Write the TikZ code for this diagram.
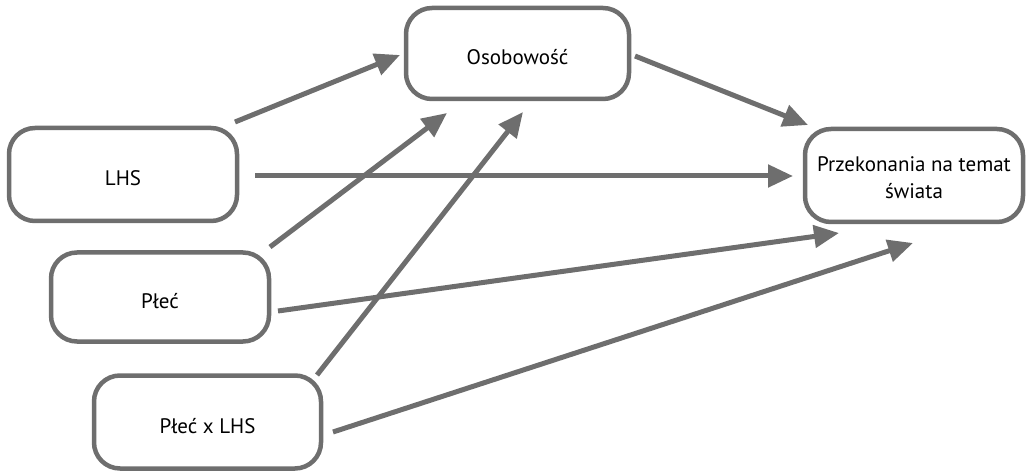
\documentclass[tikz,border=0pt]{standalone}
\usepackage{fontspec}
\setmainfont{PT Sans}
\usetikzlibrary{arrows.meta}
\definecolor{edgegray}{HTML}{6E6E6E}
\newcommand{\lowtext}[1]{\raisebox{-4pt}[\height][\depth]{#1}}
\tikzset{
  box/.style={draw=edgegray, line width=4.5pt, rounded corners=26pt, fill=white,
    align=center, font=\fontsize{21}{27}\selectfont, inner sep=0pt},
  link/.style={draw=edgegray, line width=5pt,
    -{Triangle[length=25pt,width=22pt]}},
}
\begin{document}
\begin{tikzpicture}[x=1pt,y=-1pt]
\useasboundingbox (0,0) rectangle (1026,473);
% boxes
\node[box, minimum width=223pt, minimum height=91pt] (osob) at (517.5,53.5) {\lowtext{Osobowość}};
\node[box, minimum width=228pt, minimum height=93pt] (lhs) at (123,174.5) {\lowtext{LHS}};
\node[box, minimum width=218pt, minimum height=89pt] (plec) at (160,297) {\lowtext{Płeć}};
\node[box, minimum width=227pt, minimum height=93pt] (plx) at (207.5,422) {\lowtext{Płeć x LHS}};
\node[box, minimum width=218pt, minimum height=93pt] (prz) at (914,175.5) {\lowtext{\begin{tabular}{@{}c@{}}Przekonania na temat\\[-0.5pt]świata\end{tabular}}};
% connector ends
\coordinate (lhsA) at (235,122);
\coordinate (lhsB) at (255,176);
\coordinate (osobIn1) at (400,55);
\coordinate (osobIn2) at (447,113);
\coordinate (osobIn3) at (523,112);
\coordinate (osobOut) at (635,56);
\coordinate (przIn1) at (808,125);
\coordinate (przIn2) at (793,176);
\coordinate (przIn3) at (839,233);
\coordinate (przIn4) at (913,243);
\coordinate (plecA) at (270,247);
\coordinate (plecB) at (278,311);
\coordinate (plxA) at (317,375);
\coordinate (plxB) at (333,432);
% connectors
\draw[link] (lhsA) -- (osobIn1);
\draw[link] (osobOut) -- (przIn1);
\draw[link] (lhsB) -- (przIn2);
\draw[link] (plecA) -- (osobIn2);
\draw[link] (plxA) -- (osobIn3);
\draw[link] (plecB) -- (przIn3);
\draw[link] (plxB) -- (przIn4);
\end{tikzpicture}
\end{document}
